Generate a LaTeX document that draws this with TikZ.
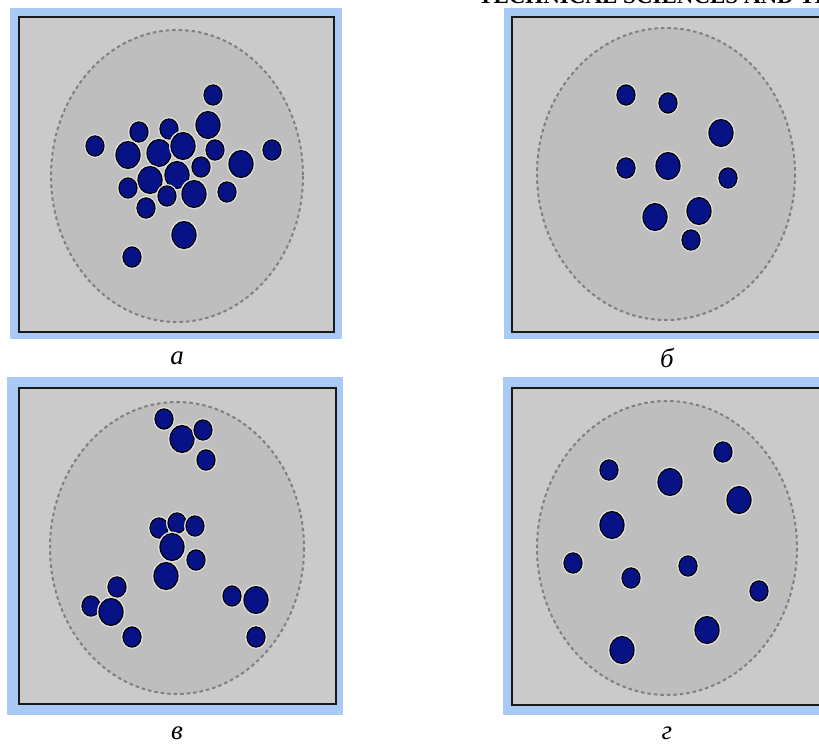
\documentclass[tikz,border=0pt]{standalone}
\usepackage{fontspec}
\setmainfont{Liberation Serif}
\usepackage{xcolor}
\definecolor{FrameBlue}{RGB}{168,202,245}
\definecolor{PanelGrey}{RGB}{202,202,202}
\definecolor{CellGrey}{RGB}{190,190,190}
\definecolor{RimGrey}{RGB}{128,128,128}
\definecolor{DotBlue}{RGB}{8,18,135}
\definecolor{HaloGrey}{RGB}{222,222,222}

\begin{document}
\begin{tikzpicture}[x=1pt,y=-1pt,
frame/.style={fill=FrameBlue},
panel/.style={fill=PanelGrey,draw=black!90,line width=2.4pt},
cell/.style={fill=CellGrey,draw=RimGrey,line width=2pt,dash pattern=on 3.5pt off 3pt},
halo/.style={fill=HaloGrey},
dot/.style={fill=DotBlue,draw=black,line width=1.2pt},
lbl/.style={font=\fontsize{27}{30}\selectfont\itshape,inner sep=0pt}
]
\useasboundingbox (0,0) rectangle (819,744);
\fill[white] (0,0) rectangle (819,744);

% header line, cut by the page edge
\node[anchor=base west,inner sep=0pt,font=\fontsize{23}{26}\selectfont\bfseries] (head) at (478,4) {TECHNICAL SCIENCES AND TECHNOLOGIES};

% panel a
\fill[frame] (10,8) rectangle (342,339);
\draw[panel] (19,17) rectangle (334,332);
\draw[cell] (177,176) ellipse [x radius=126,y radius=146];
\foreach \x/\y/\r in {213/95/9,208/125/12,139/132/9,169/129/9,95/146/9,128/155/12,159/153/12,
  183/146/12,215/150/9,241/164/12,272/150/9,201/167/9,177/175/12,150/180/12,128/188/9,
  167/196/9,194/194/12,227/192/9,146/208/9,184/235/12,132/257/9}{
  \fill[halo] (\x,\y) ellipse [x radius=\r+2,y radius=1.12*\r+2];
  \draw[dot] (\x,\y) ellipse [x radius=\r,y radius=1.12*\r];
}
\node[lbl] (lblA) at (177,358) {а};

% panel b
\fill[frame] (504,8) rectangle (830,339);
\draw[panel] (512,17) rectangle (840,332);
\draw[cell] (666,174) ellipse [x radius=129,y radius=146];
\foreach \x/\y/\r in {626/95/9,668/103/9,721/133/12,626/168/9,668/166/12,728/178/9,
  655/217/12,699/211/12,691/240/9}{
  \fill[halo] (\x,\y) ellipse [x radius=\r+2,y radius=1.12*\r+2];
  \draw[dot] (\x,\y) ellipse [x radius=\r,y radius=1.12*\r];
}
\node[lbl] (lblB) at (667,358) {б};

% panel c
\fill[frame] (7,377) rectangle (343,715);
\draw[panel] (19,388) rectangle (336,704);
\draw[cell] (177,548) ellipse [x radius=127,y radius=146];
\foreach \x/\y/\r in {164/419/9,182/439/12,203/430/9,206/460/9,159/528/9,177/523/9,
  195/526/9,172/547/12,196/560/9,166/576/12,117/587/9,91/606/9,111/612/12,132/637/9,
  232/596/9,256/600/12,256/637/9}{
  \fill[halo] (\x,\y) ellipse [x radius=\r+2,y radius=1.12*\r+2];
  \draw[dot] (\x,\y) ellipse [x radius=\r,y radius=1.12*\r];
}
\node[lbl] (lblC) at (177,733) {в};

% panel d
\fill[frame] (503,377) rectangle (830,715);
\draw[panel] (512,388) rectangle (840,705);
\draw[cell] (667,548) ellipse [x radius=130,y radius=147];
\foreach \x/\y/\r in {609/470/9,670/482/12,723/452/9,739/500/12,612/525/12,573/563/9,
  631/578/9,688/566/9,759/591/9,707/630/12,622/650/12}{
  \fill[halo] (\x,\y) ellipse [x radius=\r+2,y radius=1.12*\r+2];
  \draw[dot] (\x,\y) ellipse [x radius=\r,y radius=1.12*\r];
}
\node[lbl] (lblD) at (667,733) {г};
\end{tikzpicture}
\end{document}
